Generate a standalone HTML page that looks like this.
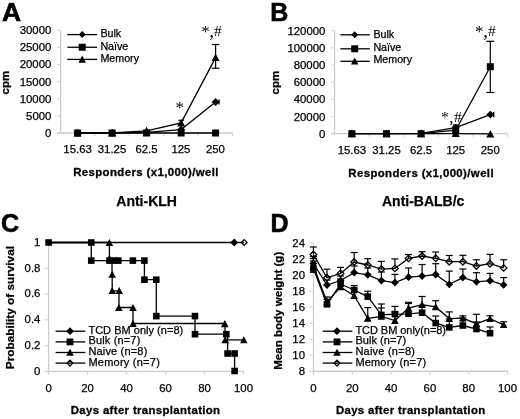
<!DOCTYPE html>
<html><head><meta charset="utf-8"><style>html,body{margin:0;padding:0;background:#fff;}svg{display:block;will-change:transform;filter:blur(0.3px);}</style></head>
<body>
<svg width="520" height="419" viewBox="0 0 520 419">
<rect width="520" height="419" fill="#fff"/>
<text transform="translate(2.10,21.30) scale(1.0,1)" font-family='"Liberation Sans", sans-serif' font-size="26.4" font-weight="bold" stroke="#000" stroke-width="0.6">A</text>
<line x1="60.60" y1="30.20" x2="60.60" y2="133.50" stroke="#cdcdcd" stroke-width="1.3"/>
<line x1="57.10" y1="133.00" x2="60.60" y2="133.00" stroke="#d6d6d6" stroke-width="1.2"/>
<text x="51.40" y="137.00" font-family='"Liberation Sans", sans-serif' font-size="11.4" text-anchor="end" stroke="#000" stroke-width="0.25" >0</text>
<line x1="57.10" y1="115.87" x2="60.60" y2="115.87" stroke="#d6d6d6" stroke-width="1.2"/>
<text x="51.40" y="119.87" font-family='"Liberation Sans", sans-serif' font-size="11.4" text-anchor="end" stroke="#000" stroke-width="0.25" >5000</text>
<line x1="57.10" y1="98.73" x2="60.60" y2="98.73" stroke="#d6d6d6" stroke-width="1.2"/>
<text x="51.40" y="102.73" font-family='"Liberation Sans", sans-serif' font-size="11.4" text-anchor="end" stroke="#000" stroke-width="0.25" >10000</text>
<line x1="57.10" y1="81.60" x2="60.60" y2="81.60" stroke="#d6d6d6" stroke-width="1.2"/>
<text x="51.40" y="85.60" font-family='"Liberation Sans", sans-serif' font-size="11.4" text-anchor="end" stroke="#000" stroke-width="0.25" >15000</text>
<line x1="57.10" y1="64.47" x2="60.60" y2="64.47" stroke="#d6d6d6" stroke-width="1.2"/>
<text x="51.40" y="68.47" font-family='"Liberation Sans", sans-serif' font-size="11.4" text-anchor="end" stroke="#000" stroke-width="0.25" >20000</text>
<line x1="57.10" y1="47.33" x2="60.60" y2="47.33" stroke="#d6d6d6" stroke-width="1.2"/>
<text x="51.40" y="51.33" font-family='"Liberation Sans", sans-serif' font-size="11.4" text-anchor="end" stroke="#000" stroke-width="0.25" >25000</text>
<line x1="57.10" y1="30.20" x2="60.60" y2="30.20" stroke="#d6d6d6" stroke-width="1.2"/>
<text x="51.40" y="34.20" font-family='"Liberation Sans", sans-serif' font-size="11.4" text-anchor="end" stroke="#000" stroke-width="0.25" >30000</text>
<line x1="57.10" y1="133.00" x2="232.62" y2="133.00" stroke="#cdcdcd" stroke-width="1.3"/>
<line x1="94.82" y1="133.00" x2="94.82" y2="136.00" stroke="#d6d6d6" stroke-width="1.2"/>
<line x1="129.28" y1="133.00" x2="129.28" y2="136.00" stroke="#d6d6d6" stroke-width="1.2"/>
<line x1="163.72" y1="133.00" x2="163.72" y2="136.00" stroke="#d6d6d6" stroke-width="1.2"/>
<line x1="198.18" y1="133.00" x2="198.18" y2="136.00" stroke="#d6d6d6" stroke-width="1.2"/>
<line x1="232.62" y1="133.00" x2="232.62" y2="136.00" stroke="#d6d6d6" stroke-width="1.2"/>
<text x="77.60" y="152.50" font-family='"Liberation Sans", sans-serif' font-size="11.4" text-anchor="middle" stroke="#000" stroke-width="0.25" >15.63</text>
<text x="112.05" y="152.50" font-family='"Liberation Sans", sans-serif' font-size="11.4" text-anchor="middle" stroke="#000" stroke-width="0.25" >31.25</text>
<text x="146.50" y="152.50" font-family='"Liberation Sans", sans-serif' font-size="11.4" text-anchor="middle" stroke="#000" stroke-width="0.25" >62.5</text>
<text x="180.95" y="152.50" font-family='"Liberation Sans", sans-serif' font-size="11.4" text-anchor="middle" stroke="#000" stroke-width="0.25" >125</text>
<text x="215.40" y="152.50" font-family='"Liberation Sans", sans-serif' font-size="11.4" text-anchor="middle" stroke="#000" stroke-width="0.25" >250</text>
<text x="146.00" y="176.2" font-family='"Liberation Sans", sans-serif' font-size="11.4" font-weight="bold" text-anchor="middle" letter-spacing="0.4" stroke="#000" stroke-width="0.3">Responders (x1,000)/well</text>
<text transform="translate(9.30,82.60) rotate(-90)" font-family='"Liberation Sans", sans-serif' font-size="11.5" font-weight="bold" text-anchor="middle" stroke="#000" stroke-width="0.25" >cpm</text>
<polyline points="77.60,133.00 112.10,133.00 146.60,133.00 181.10,133.00 215.60,133.00" fill="none" stroke="#000" stroke-width="1.3" stroke-linejoin="miter"/>
<polyline points="77.60,133.00 112.10,133.00 146.60,132.40 181.10,129.60 215.60,102.00" fill="none" stroke="#000" stroke-width="1.3" stroke-linejoin="miter"/>
<polyline points="77.60,133.00 112.10,133.00 146.60,130.80 181.10,122.90 215.60,57.60" fill="none" stroke="#000" stroke-width="1.3" stroke-linejoin="miter"/>
<line x1="215.60" y1="44.50" x2="215.60" y2="68.20" stroke="#000" stroke-width="1.2"/>
<line x1="211.85" y1="44.50" x2="219.35" y2="44.50" stroke="#000" stroke-width="1.2"/>
<line x1="211.85" y1="68.20" x2="219.35" y2="68.20" stroke="#000" stroke-width="1.2"/>
<line x1="181.10" y1="120.30" x2="181.10" y2="125.00" stroke="#000" stroke-width="1.2"/>
<line x1="178.35" y1="120.30" x2="183.85" y2="120.30" stroke="#000" stroke-width="1.2"/>
<line x1="178.35" y1="125.00" x2="183.85" y2="125.00" stroke="#000" stroke-width="1.2"/>
<rect x="74.10" y="129.50" width="7.00" height="7.00" fill="#000"/>
<rect x="108.60" y="129.50" width="7.00" height="7.00" fill="#000"/>
<rect x="143.10" y="129.50" width="7.00" height="7.00" fill="#000"/>
<rect x="177.60" y="129.50" width="7.00" height="7.00" fill="#000"/>
<rect x="212.10" y="129.50" width="7.00" height="7.00" fill="#000"/>
<polygon points="77.60,129.10 81.50,133.00 77.60,136.90 73.70,133.00" fill="#000"/>
<polygon points="112.10,129.10 116.00,133.00 112.10,136.90 108.20,133.00" fill="#000"/>
<polygon points="146.60,128.50 150.50,132.40 146.60,136.30 142.70,132.40" fill="#000"/>
<polygon points="181.10,125.70 185.00,129.60 181.10,133.50 177.20,129.60" fill="#000"/>
<polygon points="215.60,98.10 219.50,102.00 215.60,105.90 211.70,102.00" fill="#000"/>
<line x1="219.00" y1="99.40" x2="219.00" y2="104.60" stroke="#000" stroke-width="1.4"/>
<polygon points="77.60,129.00 81.60,136.50 73.60,136.50" fill="#000"/>
<polygon points="112.10,129.00 116.10,136.50 108.10,136.50" fill="#000"/>
<polygon points="146.60,126.80 150.60,134.30 142.60,134.30" fill="#000"/>
<polygon points="181.10,118.90 185.10,126.40 177.10,126.40" fill="#000"/>
<polygon points="215.60,53.60 219.60,61.10 211.60,61.10" fill="#000"/>
<line x1="67.30" y1="34.60" x2="97.10" y2="34.60" stroke="#000" stroke-width="1.3"/>
<polygon points="82.20,31.10 85.70,34.60 82.20,38.10 78.70,34.60" fill="#000"/>
<text x="100.40" y="37.30" font-family='"Liberation Sans", sans-serif' font-size="10.7" text-anchor="start" stroke="#000" stroke-width="0.25" >Bulk</text>
<line x1="67.30" y1="47.25" x2="97.10" y2="47.25" stroke="#000" stroke-width="1.3"/>
<rect x="78.70" y="43.75" width="7.00" height="7.00" fill="#000"/>
<text x="100.40" y="50.40" font-family='"Liberation Sans", sans-serif' font-size="10.7" text-anchor="start" stroke="#000" stroke-width="0.25" >Na&#239;ve</text>
<line x1="67.30" y1="59.40" x2="97.10" y2="59.40" stroke="#000" stroke-width="1.3"/>
<polygon points="82.20,55.60 85.90,62.70 78.50,62.70" fill="#000"/>
<text x="100.40" y="62.40" font-family='"Liberation Sans", sans-serif' font-size="10.7" text-anchor="start" stroke="#000" stroke-width="0.25" >Memory</text>
<text x="205.40" y="37.20" font-family='"Liberation Serif", serif' font-size="17" text-anchor="middle" >*</text>
<text x="211.60" y="37.40" font-family='"Liberation Serif", serif' font-size="19" text-anchor="middle" >,</text>
<text x="217.90" y="35.90" font-family='"Liberation Serif", serif' font-size="15.5" text-anchor="middle" >#</text>
<text x="179.70" y="113.40" font-family='"Liberation Serif", serif' font-size="17" text-anchor="middle" >*</text>
<text x="146.60" y="205.50" font-family='"Liberation Sans", sans-serif' font-size="14" font-weight="bold" text-anchor="middle" stroke="#000" stroke-width="0.25" >Anti-KLH</text>
<text transform="translate(270.30,21.30) scale(0.95,1)" font-family='"Liberation Sans", sans-serif' font-size="26.4" font-weight="bold" stroke="#000" stroke-width="0.6">B</text>
<line x1="334.60" y1="30.60" x2="334.60" y2="134.20" stroke="#cdcdcd" stroke-width="1.3"/>
<line x1="331.10" y1="133.70" x2="334.60" y2="133.70" stroke="#d6d6d6" stroke-width="1.2"/>
<text x="325.40" y="137.70" font-family='"Liberation Sans", sans-serif' font-size="11.4" text-anchor="end" stroke="#000" stroke-width="0.25" >0</text>
<line x1="331.10" y1="116.52" x2="334.60" y2="116.52" stroke="#d6d6d6" stroke-width="1.2"/>
<text x="325.40" y="120.52" font-family='"Liberation Sans", sans-serif' font-size="11.4" text-anchor="end" stroke="#000" stroke-width="0.25" >20000</text>
<line x1="331.10" y1="99.33" x2="334.60" y2="99.33" stroke="#d6d6d6" stroke-width="1.2"/>
<text x="325.40" y="103.33" font-family='"Liberation Sans", sans-serif' font-size="11.4" text-anchor="end" stroke="#000" stroke-width="0.25" >40000</text>
<line x1="331.10" y1="82.15" x2="334.60" y2="82.15" stroke="#d6d6d6" stroke-width="1.2"/>
<text x="325.40" y="86.15" font-family='"Liberation Sans", sans-serif' font-size="11.4" text-anchor="end" stroke="#000" stroke-width="0.25" >60000</text>
<line x1="331.10" y1="64.97" x2="334.60" y2="64.97" stroke="#d6d6d6" stroke-width="1.2"/>
<text x="325.40" y="68.97" font-family='"Liberation Sans", sans-serif' font-size="11.4" text-anchor="end" stroke="#000" stroke-width="0.25" >80000</text>
<line x1="331.10" y1="47.78" x2="334.60" y2="47.78" stroke="#d6d6d6" stroke-width="1.2"/>
<text x="325.40" y="51.78" font-family='"Liberation Sans", sans-serif' font-size="11.4" text-anchor="end" stroke="#000" stroke-width="0.25" >100000</text>
<line x1="331.10" y1="30.60" x2="334.60" y2="30.60" stroke="#d6d6d6" stroke-width="1.2"/>
<text x="325.40" y="34.60" font-family='"Liberation Sans", sans-serif' font-size="11.4" text-anchor="end" stroke="#000" stroke-width="0.25" >120000</text>
<line x1="331.10" y1="133.70" x2="507.60" y2="133.70" stroke="#cdcdcd" stroke-width="1.3"/>
<line x1="369.20" y1="133.70" x2="369.20" y2="136.70" stroke="#d6d6d6" stroke-width="1.2"/>
<line x1="403.80" y1="133.70" x2="403.80" y2="136.70" stroke="#d6d6d6" stroke-width="1.2"/>
<line x1="438.40" y1="133.70" x2="438.40" y2="136.70" stroke="#d6d6d6" stroke-width="1.2"/>
<line x1="473.00" y1="133.70" x2="473.00" y2="136.70" stroke="#d6d6d6" stroke-width="1.2"/>
<line x1="507.60" y1="133.70" x2="507.60" y2="136.70" stroke="#d6d6d6" stroke-width="1.2"/>
<text x="351.90" y="154.30" font-family='"Liberation Sans", sans-serif' font-size="11.4" text-anchor="middle" stroke="#000" stroke-width="0.25" >15.63</text>
<text x="386.50" y="154.30" font-family='"Liberation Sans", sans-serif' font-size="11.4" text-anchor="middle" stroke="#000" stroke-width="0.25" >31.25</text>
<text x="421.10" y="154.30" font-family='"Liberation Sans", sans-serif' font-size="11.4" text-anchor="middle" stroke="#000" stroke-width="0.25" >62.5</text>
<text x="455.70" y="154.30" font-family='"Liberation Sans", sans-serif' font-size="11.4" text-anchor="middle" stroke="#000" stroke-width="0.25" >125</text>
<text x="490.30" y="154.30" font-family='"Liberation Sans", sans-serif' font-size="11.4" text-anchor="middle" stroke="#000" stroke-width="0.25" >250</text>
<text x="421.15" y="177.0" font-family='"Liberation Sans", sans-serif' font-size="11.4" font-weight="bold" text-anchor="middle" letter-spacing="0.4" stroke="#000" stroke-width="0.3">Responders (x1,000)/well</text>
<text transform="translate(279.00,82.60) rotate(-90)" font-family='"Liberation Sans", sans-serif' font-size="11.5" font-weight="bold" text-anchor="middle" stroke="#000" stroke-width="0.25" >cpm</text>
<polyline points="351.90,133.70 386.50,133.70 421.10,133.70 455.70,133.60 490.30,133.90" fill="none" stroke="#000" stroke-width="1.3" stroke-linejoin="miter"/>
<polyline points="351.90,133.70 386.50,133.70 421.10,133.40 455.70,127.60 490.30,114.60" fill="none" stroke="#000" stroke-width="1.3" stroke-linejoin="miter"/>
<polyline points="351.90,133.70 386.50,133.70 421.10,133.70 455.70,130.20 490.30,66.70" fill="none" stroke="#000" stroke-width="1.3" stroke-linejoin="miter"/>
<line x1="490.30" y1="41.30" x2="490.30" y2="92.50" stroke="#000" stroke-width="1.2"/>
<line x1="486.30" y1="41.30" x2="494.30" y2="41.30" stroke="#000" stroke-width="1.2"/>
<line x1="486.30" y1="92.50" x2="494.30" y2="92.50" stroke="#000" stroke-width="1.2"/>
<line x1="455.70" y1="125.00" x2="455.70" y2="135.50" stroke="#000" stroke-width="1.2"/>
<line x1="452.70" y1="125.00" x2="458.70" y2="125.00" stroke="#000" stroke-width="1.2"/>
<line x1="452.70" y1="135.50" x2="458.70" y2="135.50" stroke="#000" stroke-width="1.2"/>
<rect x="348.40" y="130.20" width="7.00" height="7.00" fill="#000"/>
<rect x="383.00" y="130.20" width="7.00" height="7.00" fill="#000"/>
<rect x="417.60" y="130.20" width="7.00" height="7.00" fill="#000"/>
<rect x="452.20" y="126.70" width="7.00" height="7.00" fill="#000"/>
<rect x="486.80" y="63.20" width="7.00" height="7.00" fill="#000"/>
<polygon points="351.90,129.80 355.80,133.70 351.90,137.60 348.00,133.70" fill="#000"/>
<polygon points="386.50,129.80 390.40,133.70 386.50,137.60 382.60,133.70" fill="#000"/>
<polygon points="421.10,129.50 425.00,133.40 421.10,137.30 417.20,133.40" fill="#000"/>
<polygon points="455.70,123.70 459.60,127.60 455.70,131.50 451.80,127.60" fill="#000"/>
<polygon points="490.30,110.70 494.20,114.60 490.30,118.50 486.40,114.60" fill="#000"/>
<line x1="493.70" y1="112.00" x2="493.70" y2="117.20" stroke="#000" stroke-width="1.4"/>
<polygon points="351.90,129.70 355.90,137.20 347.90,137.20" fill="#000"/>
<polygon points="386.50,129.70 390.50,137.20 382.50,137.20" fill="#000"/>
<polygon points="421.10,129.70 425.10,137.20 417.10,137.20" fill="#000"/>
<polygon points="455.70,129.60 459.70,137.10 451.70,137.10" fill="#000"/>
<polygon points="490.30,129.90 494.30,137.40 486.30,137.40" fill="#000"/>
<line x1="340.30" y1="34.80" x2="369.80" y2="34.80" stroke="#000" stroke-width="1.3"/>
<polygon points="354.70,31.30 358.20,34.80 354.70,38.30 351.20,34.80" fill="#000"/>
<text x="373.40" y="37.60" font-family='"Liberation Sans", sans-serif' font-size="10.7" text-anchor="start" stroke="#000" stroke-width="0.25" >Bulk</text>
<line x1="340.30" y1="48.80" x2="369.80" y2="48.80" stroke="#000" stroke-width="1.3"/>
<rect x="351.20" y="45.30" width="7.00" height="7.00" fill="#000"/>
<text x="373.40" y="51.30" font-family='"Liberation Sans", sans-serif' font-size="10.7" text-anchor="start" stroke="#000" stroke-width="0.25" >Na&#239;ve</text>
<line x1="340.30" y1="61.30" x2="369.80" y2="61.30" stroke="#000" stroke-width="1.3"/>
<polygon points="354.70,57.50 358.40,64.60 351.00,64.60" fill="#000"/>
<text x="373.40" y="63.20" font-family='"Liberation Sans", sans-serif' font-size="10.7" text-anchor="start" stroke="#000" stroke-width="0.25" >Memory</text>
<text x="479.30" y="37.30" font-family='"Liberation Serif", serif' font-size="17" text-anchor="middle" >*</text>
<text x="485.60" y="37.30" font-family='"Liberation Serif", serif' font-size="19" text-anchor="middle" >,</text>
<text x="491.80" y="35.90" font-family='"Liberation Serif", serif' font-size="15.5" text-anchor="middle" >#</text>
<text x="444.90" y="121.60" font-family='"Liberation Serif", serif' font-size="15.5" text-anchor="middle" >*</text>
<text x="451.40" y="123.00" font-family='"Liberation Serif", serif' font-size="17" text-anchor="middle" >,</text>
<text x="457.90" y="121.60" font-family='"Liberation Serif", serif' font-size="15.5" text-anchor="middle" >#</text>
<text x="423.20" y="205.90" font-family='"Liberation Sans", sans-serif' font-size="14" font-weight="bold" text-anchor="middle" stroke="#000" stroke-width="0.25" >Anti-BALB/c</text>
<text transform="translate(1.00,232.40) scale(0.95,1)" font-family='"Liberation Sans", sans-serif' font-size="26.4" font-weight="bold" stroke="#000" stroke-width="0.6">C</text>
<line x1="48.60" y1="242.50" x2="48.60" y2="371.90" stroke="#cdcdcd" stroke-width="1.3"/>
<line x1="44.60" y1="371.40" x2="48.60" y2="371.40" stroke="#d6d6d6" stroke-width="1.2"/>
<text x="40.40" y="374.70" font-family='"Liberation Sans", sans-serif' font-size="11.4" text-anchor="end" stroke="#000" stroke-width="0.25" >0</text>
<line x1="44.60" y1="345.62" x2="48.60" y2="345.62" stroke="#d6d6d6" stroke-width="1.2"/>
<text x="40.40" y="348.92" font-family='"Liberation Sans", sans-serif' font-size="11.4" text-anchor="end" stroke="#000" stroke-width="0.25" >0.2</text>
<line x1="44.60" y1="319.84" x2="48.60" y2="319.84" stroke="#d6d6d6" stroke-width="1.2"/>
<text x="40.40" y="323.14" font-family='"Liberation Sans", sans-serif' font-size="11.4" text-anchor="end" stroke="#000" stroke-width="0.25" >0.4</text>
<line x1="44.60" y1="294.06" x2="48.60" y2="294.06" stroke="#d6d6d6" stroke-width="1.2"/>
<text x="40.40" y="297.36" font-family='"Liberation Sans", sans-serif' font-size="11.4" text-anchor="end" stroke="#000" stroke-width="0.25" >0.6</text>
<line x1="44.60" y1="268.28" x2="48.60" y2="268.28" stroke="#d6d6d6" stroke-width="1.2"/>
<text x="40.40" y="271.58" font-family='"Liberation Sans", sans-serif' font-size="11.4" text-anchor="end" stroke="#000" stroke-width="0.25" >0.8</text>
<line x1="44.60" y1="242.50" x2="48.60" y2="242.50" stroke="#d6d6d6" stroke-width="1.2"/>
<text x="40.40" y="245.80" font-family='"Liberation Sans", sans-serif' font-size="11.4" text-anchor="end" stroke="#000" stroke-width="0.25" >1</text>
<line x1="48.60" y1="371.40" x2="244.00" y2="371.40" stroke="#cdcdcd" stroke-width="1.3"/>
<line x1="48.60" y1="371.40" x2="48.60" y2="374.90" stroke="#d6d6d6" stroke-width="1.2"/>
<text x="48.60" y="392.10" font-family='"Liberation Sans", sans-serif' font-size="11.4" text-anchor="middle" stroke="#000" stroke-width="0.25" >0</text>
<line x1="87.58" y1="371.40" x2="87.58" y2="374.90" stroke="#d6d6d6" stroke-width="1.2"/>
<text x="87.58" y="392.10" font-family='"Liberation Sans", sans-serif' font-size="11.4" text-anchor="middle" stroke="#000" stroke-width="0.25" >20</text>
<line x1="126.56" y1="371.40" x2="126.56" y2="374.90" stroke="#d6d6d6" stroke-width="1.2"/>
<text x="126.56" y="392.10" font-family='"Liberation Sans", sans-serif' font-size="11.4" text-anchor="middle" stroke="#000" stroke-width="0.25" >40</text>
<line x1="165.54" y1="371.40" x2="165.54" y2="374.90" stroke="#d6d6d6" stroke-width="1.2"/>
<text x="165.54" y="392.10" font-family='"Liberation Sans", sans-serif' font-size="11.4" text-anchor="middle" stroke="#000" stroke-width="0.25" >60</text>
<line x1="204.52" y1="371.40" x2="204.52" y2="374.90" stroke="#d6d6d6" stroke-width="1.2"/>
<text x="204.52" y="392.10" font-family='"Liberation Sans", sans-serif' font-size="11.4" text-anchor="middle" stroke="#000" stroke-width="0.25" >80</text>
<line x1="243.50" y1="371.40" x2="243.50" y2="374.90" stroke="#d6d6d6" stroke-width="1.2"/>
<text x="243.50" y="392.10" font-family='"Liberation Sans", sans-serif' font-size="11.4" text-anchor="middle" stroke="#000" stroke-width="0.25" >100</text>
<text x="145.60" y="413.6" font-family='"Liberation Sans", sans-serif' font-size="11.4" font-weight="bold" text-anchor="middle" letter-spacing="0.35" stroke="#000" stroke-width="0.3">Days after transplantation</text>
<text transform="translate(13.60,307.60) rotate(-90)" font-family='"Liberation Sans", sans-serif' font-size="11.8" font-weight="bold" text-anchor="middle" stroke="#000" stroke-width="0.25" >Probability of survival</text>
<line x1="48.60" y1="242.50" x2="244.20" y2="242.50" stroke="#000" stroke-width="1.3"/>
<polyline points="48.60,242.50 91.25,242.50 91.25,260.60 144.40,260.60 144.40,279.70 156.30,279.70 156.30,316.10 195.00,316.10 195.00,334.20 227.60,334.20 227.60,353.50 234.60,353.50 234.60,371.00" fill="none" stroke="#000" stroke-width="1.3" stroke-linejoin="miter"/>
<polyline points="48.60,242.50 109.40,242.50 109.40,258.60 112.00,258.60 112.00,274.70 112.20,274.70 112.20,290.80 119.00,290.80 119.00,307.50 133.00,307.50 133.00,323.50 225.00,323.50 225.00,339.80 243.80,339.80" fill="none" stroke="#000" stroke-width="1.3" stroke-linejoin="miter"/>
<rect x="45.30" y="239.20" width="6.60" height="6.60" fill="#000"/>
<rect x="87.95" y="239.20" width="6.60" height="6.60" fill="#000"/>
<rect x="87.95" y="257.30" width="6.60" height="6.60" fill="#000"/>
<rect x="106.20" y="257.30" width="6.60" height="6.60" fill="#000"/>
<rect x="110.70" y="257.30" width="6.60" height="6.60" fill="#000"/>
<rect x="115.00" y="257.30" width="6.60" height="6.60" fill="#000"/>
<rect x="129.60" y="257.30" width="6.60" height="6.60" fill="#000"/>
<rect x="141.10" y="257.30" width="6.60" height="6.60" fill="#000"/>
<rect x="141.10" y="276.40" width="6.60" height="6.60" fill="#000"/>
<rect x="153.00" y="276.40" width="6.60" height="6.60" fill="#000"/>
<rect x="153.00" y="312.80" width="6.60" height="6.60" fill="#000"/>
<rect x="191.70" y="312.80" width="6.60" height="6.60" fill="#000"/>
<rect x="191.70" y="330.90" width="6.60" height="6.60" fill="#000"/>
<rect x="223.00" y="330.90" width="6.60" height="6.60" fill="#000"/>
<rect x="224.30" y="350.20" width="6.60" height="6.60" fill="#000"/>
<rect x="231.30" y="350.20" width="6.60" height="6.60" fill="#000"/>
<rect x="231.30" y="367.70" width="6.60" height="6.60" fill="#000"/>
<polygon points="109.40,239.00 113.20,246.10 105.60,246.10" fill="#000"/>
<polygon points="109.40,254.80 113.20,261.90 105.60,261.90" fill="#000"/>
<polygon points="112.20,270.70 116.00,277.80 108.40,277.80" fill="#000"/>
<polygon points="112.20,287.00 116.00,294.10 108.40,294.10" fill="#000"/>
<polygon points="119.20,287.00 123.00,294.10 115.40,294.10" fill="#000"/>
<polygon points="118.80,304.00 122.60,311.10 115.00,311.10" fill="#000"/>
<polygon points="133.00,304.00 136.80,311.10 129.20,311.10" fill="#000"/>
<polygon points="133.00,319.80 136.80,326.90 129.20,326.90" fill="#000"/>
<polygon points="224.80,320.10 228.60,327.20 221.00,327.20" fill="#000"/>
<polygon points="225.20,336.20 229.00,343.30 221.40,343.30" fill="#000"/>
<polygon points="243.80,336.20 247.60,343.30 240.00,343.30" fill="#000"/>
<polygon points="234.20,238.60 238.10,242.50 234.20,246.40 230.30,242.50" fill="#000"/>
<polygon points="244.20,239.60 247.10,242.50 244.20,245.40 241.30,242.50" fill="none" stroke="#000" stroke-width="1.3"/>
<line x1="55.60" y1="331.20" x2="85.40" y2="331.20" stroke="#000" stroke-width="1.3"/>
<polygon points="70.00,327.30 73.90,331.20 70.00,335.10 66.10,331.20" fill="#000"/>
<text x="88.40" y="333.70" font-family='"Liberation Sans", sans-serif' font-size="11" text-anchor="start" stroke="#000" stroke-width="0.25" textLength="94.8">TCD BM only (n=8)</text>
<line x1="55.60" y1="341.90" x2="85.40" y2="341.90" stroke="#000" stroke-width="1.3"/>
<rect x="66.60" y="338.50" width="6.80" height="6.80" fill="#000"/>
<text x="88.40" y="344.40" font-family='"Liberation Sans", sans-serif' font-size="11" text-anchor="start" stroke="#000" stroke-width="0.25" textLength="51.9">Bulk (n=7)</text>
<line x1="55.60" y1="352.50" x2="85.40" y2="352.50" stroke="#000" stroke-width="1.3"/>
<polygon points="70.00,348.70 73.80,355.80 66.20,355.80" fill="#000"/>
<text x="88.40" y="355.00" font-family='"Liberation Sans", sans-serif' font-size="11" text-anchor="start" stroke="#000" stroke-width="0.25" textLength="58.9">Naive (n=8)</text>
<line x1="55.60" y1="363.10" x2="85.40" y2="363.10" stroke="#000" stroke-width="1.3"/>
<polygon points="70.00,360.20 72.90,363.10 70.00,366.00 67.10,363.10" fill="none" stroke="#000" stroke-width="1.3"/>
<text x="88.40" y="365.60" font-family='"Liberation Sans", sans-serif' font-size="11" text-anchor="start" stroke="#000" stroke-width="0.25" textLength="71.4">Memory (n=7)</text>
<text transform="translate(270.50,232.40) scale(0.95,1)" font-family='"Liberation Sans", sans-serif' font-size="26.4" font-weight="bold" stroke="#000" stroke-width="0.6">D</text>
<line x1="313.50" y1="243.10" x2="313.50" y2="371.75" stroke="#cdcdcd" stroke-width="1.3"/>
<line x1="309.50" y1="371.25" x2="313.50" y2="371.25" stroke="#d6d6d6" stroke-width="1.2"/>
<text x="305.00" y="375.25" font-family='"Liberation Sans", sans-serif' font-size="11.4" text-anchor="end" stroke="#000" stroke-width="0.25" >8</text>
<line x1="309.50" y1="355.23" x2="313.50" y2="355.23" stroke="#d6d6d6" stroke-width="1.2"/>
<text x="305.00" y="359.23" font-family='"Liberation Sans", sans-serif' font-size="11.4" text-anchor="end" stroke="#000" stroke-width="0.25" >10</text>
<line x1="309.50" y1="339.21" x2="313.50" y2="339.21" stroke="#d6d6d6" stroke-width="1.2"/>
<text x="305.00" y="343.21" font-family='"Liberation Sans", sans-serif' font-size="11.4" text-anchor="end" stroke="#000" stroke-width="0.25" >12</text>
<line x1="309.50" y1="323.19" x2="313.50" y2="323.19" stroke="#d6d6d6" stroke-width="1.2"/>
<text x="305.00" y="327.19" font-family='"Liberation Sans", sans-serif' font-size="11.4" text-anchor="end" stroke="#000" stroke-width="0.25" >14</text>
<line x1="309.50" y1="307.18" x2="313.50" y2="307.18" stroke="#d6d6d6" stroke-width="1.2"/>
<text x="305.00" y="311.18" font-family='"Liberation Sans", sans-serif' font-size="11.4" text-anchor="end" stroke="#000" stroke-width="0.25" >16</text>
<line x1="309.50" y1="291.16" x2="313.50" y2="291.16" stroke="#d6d6d6" stroke-width="1.2"/>
<text x="305.00" y="295.16" font-family='"Liberation Sans", sans-serif' font-size="11.4" text-anchor="end" stroke="#000" stroke-width="0.25" >18</text>
<line x1="309.50" y1="275.14" x2="313.50" y2="275.14" stroke="#d6d6d6" stroke-width="1.2"/>
<text x="305.00" y="279.14" font-family='"Liberation Sans", sans-serif' font-size="11.4" text-anchor="end" stroke="#000" stroke-width="0.25" >20</text>
<line x1="309.50" y1="259.12" x2="313.50" y2="259.12" stroke="#d6d6d6" stroke-width="1.2"/>
<text x="305.00" y="263.12" font-family='"Liberation Sans", sans-serif' font-size="11.4" text-anchor="end" stroke="#000" stroke-width="0.25" >22</text>
<line x1="309.50" y1="243.10" x2="313.50" y2="243.10" stroke="#d6d6d6" stroke-width="1.2"/>
<text x="305.00" y="247.10" font-family='"Liberation Sans", sans-serif' font-size="11.4" text-anchor="end" stroke="#000" stroke-width="0.25" >24</text>
<line x1="313.50" y1="371.25" x2="508.00" y2="371.25" stroke="#cdcdcd" stroke-width="1.3"/>
<line x1="313.50" y1="371.25" x2="313.50" y2="374.75" stroke="#d6d6d6" stroke-width="1.2"/>
<text x="313.50" y="392.10" font-family='"Liberation Sans", sans-serif' font-size="11.4" text-anchor="middle" stroke="#000" stroke-width="0.25" >0</text>
<line x1="352.30" y1="371.25" x2="352.30" y2="374.75" stroke="#d6d6d6" stroke-width="1.2"/>
<text x="352.30" y="392.10" font-family='"Liberation Sans", sans-serif' font-size="11.4" text-anchor="middle" stroke="#000" stroke-width="0.25" >20</text>
<line x1="391.10" y1="371.25" x2="391.10" y2="374.75" stroke="#d6d6d6" stroke-width="1.2"/>
<text x="391.10" y="392.10" font-family='"Liberation Sans", sans-serif' font-size="11.4" text-anchor="middle" stroke="#000" stroke-width="0.25" >40</text>
<line x1="429.90" y1="371.25" x2="429.90" y2="374.75" stroke="#d6d6d6" stroke-width="1.2"/>
<text x="429.90" y="392.10" font-family='"Liberation Sans", sans-serif' font-size="11.4" text-anchor="middle" stroke="#000" stroke-width="0.25" >60</text>
<line x1="468.70" y1="371.25" x2="468.70" y2="374.75" stroke="#d6d6d6" stroke-width="1.2"/>
<text x="468.70" y="392.10" font-family='"Liberation Sans", sans-serif' font-size="11.4" text-anchor="middle" stroke="#000" stroke-width="0.25" >80</text>
<line x1="507.50" y1="371.25" x2="507.50" y2="374.75" stroke="#d6d6d6" stroke-width="1.2"/>
<text x="507.50" y="392.10" font-family='"Liberation Sans", sans-serif' font-size="11.4" text-anchor="middle" stroke="#000" stroke-width="0.25" >100</text>
<text x="410.70" y="413.7" font-family='"Liberation Sans", sans-serif' font-size="11.4" font-weight="bold" text-anchor="middle" letter-spacing="0.35" stroke="#000" stroke-width="0.3">Days after transplantation</text>
<text transform="translate(281.60,310.75) rotate(-90)" font-family='"Liberation Sans", sans-serif' font-size="11.55" font-weight="bold" text-anchor="middle" stroke="#000" stroke-width="0.25" >Mean body weight (g)</text>
<line x1="313.40" y1="268.50" x2="313.40" y2="272.30" stroke="#000" stroke-width="1.2"/>
<line x1="309.90" y1="272.30" x2="316.90" y2="272.30" stroke="#000" stroke-width="1.2"/>
<polyline points="313.40,266.00 326.99,302.00 340.57,287.00 354.16,295.60 367.75,318.40 381.33,316.50 394.92,320.60 408.51,308.10 422.10,304.60 435.68,306.90 449.27,318.60 462.86,318.20 476.44,323.70 490.03,318.70 503.62,324.80" fill="none" stroke="#000" stroke-width="1.3" stroke-linejoin="miter"/>
<line x1="313.40" y1="266.00" x2="313.40" y2="258.50" stroke="#000" stroke-width="1.2"/>
<line x1="309.90" y1="258.50" x2="316.90" y2="258.50" stroke="#000" stroke-width="1.2"/>
<line x1="326.99" y1="302.00" x2="326.99" y2="297.00" stroke="#000" stroke-width="1.2"/>
<line x1="323.49" y1="297.00" x2="330.49" y2="297.00" stroke="#000" stroke-width="1.2"/>
<line x1="340.57" y1="287.00" x2="340.57" y2="281.00" stroke="#000" stroke-width="1.2"/>
<line x1="337.07" y1="281.00" x2="344.07" y2="281.00" stroke="#000" stroke-width="1.2"/>
<line x1="354.16" y1="295.60" x2="354.16" y2="289.00" stroke="#000" stroke-width="1.2"/>
<line x1="350.66" y1="289.00" x2="357.66" y2="289.00" stroke="#000" stroke-width="1.2"/>
<line x1="367.75" y1="318.40" x2="367.75" y2="307.60" stroke="#000" stroke-width="1.2"/>
<line x1="364.25" y1="307.60" x2="371.25" y2="307.60" stroke="#000" stroke-width="1.2"/>
<line x1="381.33" y1="316.50" x2="381.33" y2="308.00" stroke="#000" stroke-width="1.2"/>
<line x1="377.83" y1="308.00" x2="384.83" y2="308.00" stroke="#000" stroke-width="1.2"/>
<line x1="394.92" y1="320.60" x2="394.92" y2="312.00" stroke="#000" stroke-width="1.2"/>
<line x1="391.42" y1="312.00" x2="398.42" y2="312.00" stroke="#000" stroke-width="1.2"/>
<line x1="408.51" y1="308.10" x2="408.51" y2="302.30" stroke="#000" stroke-width="1.2"/>
<line x1="405.01" y1="302.30" x2="412.01" y2="302.30" stroke="#000" stroke-width="1.2"/>
<line x1="422.10" y1="304.60" x2="422.10" y2="296.50" stroke="#000" stroke-width="1.2"/>
<line x1="418.60" y1="296.50" x2="425.60" y2="296.50" stroke="#000" stroke-width="1.2"/>
<line x1="435.68" y1="306.90" x2="435.68" y2="300.70" stroke="#000" stroke-width="1.2"/>
<line x1="432.18" y1="300.70" x2="439.18" y2="300.70" stroke="#000" stroke-width="1.2"/>
<line x1="449.27" y1="318.60" x2="449.27" y2="311.90" stroke="#000" stroke-width="1.2"/>
<line x1="445.77" y1="311.90" x2="452.77" y2="311.90" stroke="#000" stroke-width="1.2"/>
<line x1="462.86" y1="318.20" x2="462.86" y2="315.90" stroke="#000" stroke-width="1.2"/>
<line x1="459.36" y1="315.90" x2="466.36" y2="315.90" stroke="#000" stroke-width="1.2"/>
<line x1="476.44" y1="323.70" x2="476.44" y2="314.30" stroke="#000" stroke-width="1.2"/>
<line x1="472.94" y1="314.30" x2="479.94" y2="314.30" stroke="#000" stroke-width="1.2"/>
<line x1="490.03" y1="318.70" x2="490.03" y2="315.80" stroke="#000" stroke-width="1.2"/>
<line x1="486.53" y1="315.80" x2="493.53" y2="315.80" stroke="#000" stroke-width="1.2"/>
<line x1="503.62" y1="324.80" x2="503.62" y2="321.80" stroke="#000" stroke-width="1.2"/>
<line x1="500.12" y1="321.80" x2="507.12" y2="321.80" stroke="#000" stroke-width="1.2"/>
<polygon points="313.40,262.20 317.20,269.30 309.60,269.30" fill="#000"/>
<polygon points="326.99,298.20 330.79,305.30 323.19,305.30" fill="#000"/>
<polygon points="340.57,283.20 344.37,290.30 336.77,290.30" fill="#000"/>
<polygon points="354.16,291.80 357.96,298.90 350.36,298.90" fill="#000"/>
<polygon points="367.75,314.60 371.55,321.70 363.95,321.70" fill="#000"/>
<polygon points="381.33,312.70 385.13,319.80 377.53,319.80" fill="#000"/>
<polygon points="394.92,316.80 398.72,323.90 391.12,323.90" fill="#000"/>
<polygon points="408.51,304.30 412.31,311.40 404.71,311.40" fill="#000"/>
<polygon points="422.10,300.80 425.90,307.90 418.30,307.90" fill="#000"/>
<polygon points="435.68,303.10 439.48,310.20 431.88,310.20" fill="#000"/>
<polygon points="449.27,314.80 453.07,321.90 445.47,321.90" fill="#000"/>
<polygon points="462.86,314.40 466.66,321.50 459.06,321.50" fill="#000"/>
<polygon points="476.44,319.90 480.24,327.00 472.64,327.00" fill="#000"/>
<polygon points="490.03,314.90 493.83,322.00 486.23,322.00" fill="#000"/>
<polygon points="503.62,321.00 507.42,328.10 499.82,328.10" fill="#000"/>
<polyline points="313.40,268.50 326.99,304.30 340.57,284.00 354.16,290.00 367.75,296.60 381.33,314.90 394.92,314.10 408.51,313.80 422.10,312.70 435.68,323.10 449.27,327.40 462.86,325.50 476.44,329.00 490.03,333.20" fill="none" stroke="#000" stroke-width="1.3" stroke-linejoin="miter"/>
<line x1="313.40" y1="268.50" x2="313.40" y2="261.00" stroke="#000" stroke-width="1.2"/>
<line x1="309.90" y1="261.00" x2="316.90" y2="261.00" stroke="#000" stroke-width="1.2"/>
<line x1="326.99" y1="304.30" x2="326.99" y2="299.40" stroke="#000" stroke-width="1.2"/>
<line x1="323.49" y1="299.40" x2="330.49" y2="299.40" stroke="#000" stroke-width="1.2"/>
<line x1="340.57" y1="284.00" x2="340.57" y2="279.00" stroke="#000" stroke-width="1.2"/>
<line x1="337.07" y1="279.00" x2="344.07" y2="279.00" stroke="#000" stroke-width="1.2"/>
<line x1="354.16" y1="290.00" x2="354.16" y2="285.50" stroke="#000" stroke-width="1.2"/>
<line x1="350.66" y1="285.50" x2="357.66" y2="285.50" stroke="#000" stroke-width="1.2"/>
<line x1="367.75" y1="296.60" x2="367.75" y2="291.20" stroke="#000" stroke-width="1.2"/>
<line x1="364.25" y1="291.20" x2="371.25" y2="291.20" stroke="#000" stroke-width="1.2"/>
<line x1="381.33" y1="314.90" x2="381.33" y2="304.00" stroke="#000" stroke-width="1.2"/>
<line x1="377.83" y1="304.00" x2="384.83" y2="304.00" stroke="#000" stroke-width="1.2"/>
<line x1="394.92" y1="314.10" x2="394.92" y2="306.40" stroke="#000" stroke-width="1.2"/>
<line x1="391.42" y1="306.40" x2="398.42" y2="306.40" stroke="#000" stroke-width="1.2"/>
<line x1="408.51" y1="313.80" x2="408.51" y2="303.50" stroke="#000" stroke-width="1.2"/>
<line x1="405.01" y1="303.50" x2="412.01" y2="303.50" stroke="#000" stroke-width="1.2"/>
<line x1="422.10" y1="312.70" x2="422.10" y2="306.00" stroke="#000" stroke-width="1.2"/>
<line x1="418.60" y1="306.00" x2="425.60" y2="306.00" stroke="#000" stroke-width="1.2"/>
<line x1="435.68" y1="323.10" x2="435.68" y2="316.00" stroke="#000" stroke-width="1.2"/>
<line x1="432.18" y1="316.00" x2="439.18" y2="316.00" stroke="#000" stroke-width="1.2"/>
<line x1="449.27" y1="327.40" x2="449.27" y2="319.00" stroke="#000" stroke-width="1.2"/>
<line x1="445.77" y1="319.00" x2="452.77" y2="319.00" stroke="#000" stroke-width="1.2"/>
<line x1="462.86" y1="325.50" x2="462.86" y2="318.00" stroke="#000" stroke-width="1.2"/>
<line x1="459.36" y1="318.00" x2="466.36" y2="318.00" stroke="#000" stroke-width="1.2"/>
<line x1="476.44" y1="329.00" x2="476.44" y2="322.00" stroke="#000" stroke-width="1.2"/>
<line x1="472.94" y1="322.00" x2="479.94" y2="322.00" stroke="#000" stroke-width="1.2"/>
<line x1="490.03" y1="333.20" x2="490.03" y2="327.00" stroke="#000" stroke-width="1.2"/>
<line x1="486.53" y1="327.00" x2="493.53" y2="327.00" stroke="#000" stroke-width="1.2"/>
<rect x="310.10" y="265.20" width="6.60" height="6.60" fill="#000"/>
<rect x="323.69" y="301.00" width="6.60" height="6.60" fill="#000"/>
<rect x="337.27" y="280.70" width="6.60" height="6.60" fill="#000"/>
<rect x="350.86" y="286.70" width="6.60" height="6.60" fill="#000"/>
<rect x="364.45" y="293.30" width="6.60" height="6.60" fill="#000"/>
<rect x="378.03" y="311.60" width="6.60" height="6.60" fill="#000"/>
<rect x="391.62" y="310.80" width="6.60" height="6.60" fill="#000"/>
<rect x="405.21" y="310.50" width="6.60" height="6.60" fill="#000"/>
<rect x="418.80" y="309.40" width="6.60" height="6.60" fill="#000"/>
<rect x="432.38" y="319.80" width="6.60" height="6.60" fill="#000"/>
<rect x="445.97" y="324.10" width="6.60" height="6.60" fill="#000"/>
<rect x="459.56" y="322.20" width="6.60" height="6.60" fill="#000"/>
<rect x="473.14" y="325.70" width="6.60" height="6.60" fill="#000"/>
<rect x="486.73" y="329.90" width="6.60" height="6.60" fill="#000"/>
<polyline points="313.40,263.50 326.99,285.00 340.57,280.50 354.16,272.60 367.75,274.80 381.33,280.60 394.92,282.60 408.51,277.20 422.10,276.10 435.68,274.50 449.27,284.30 462.86,277.60 476.44,281.80 490.03,280.70 503.62,284.90" fill="none" stroke="#000" stroke-width="1.3" stroke-linejoin="miter"/>
<line x1="313.40" y1="263.50" x2="313.40" y2="256.50" stroke="#000" stroke-width="1.2"/>
<line x1="309.90" y1="256.50" x2="316.90" y2="256.50" stroke="#000" stroke-width="1.2"/>
<line x1="326.99" y1="285.00" x2="326.99" y2="280.00" stroke="#000" stroke-width="1.2"/>
<line x1="323.49" y1="280.00" x2="330.49" y2="280.00" stroke="#000" stroke-width="1.2"/>
<line x1="340.57" y1="280.50" x2="340.57" y2="276.00" stroke="#000" stroke-width="1.2"/>
<line x1="337.07" y1="276.00" x2="344.07" y2="276.00" stroke="#000" stroke-width="1.2"/>
<line x1="354.16" y1="272.60" x2="354.16" y2="266.00" stroke="#000" stroke-width="1.2"/>
<line x1="350.66" y1="266.00" x2="357.66" y2="266.00" stroke="#000" stroke-width="1.2"/>
<line x1="367.75" y1="274.80" x2="367.75" y2="268.00" stroke="#000" stroke-width="1.2"/>
<line x1="364.25" y1="268.00" x2="371.25" y2="268.00" stroke="#000" stroke-width="1.2"/>
<line x1="381.33" y1="280.60" x2="381.33" y2="272.00" stroke="#000" stroke-width="1.2"/>
<line x1="377.83" y1="272.00" x2="384.83" y2="272.00" stroke="#000" stroke-width="1.2"/>
<line x1="394.92" y1="282.60" x2="394.92" y2="274.40" stroke="#000" stroke-width="1.2"/>
<line x1="391.42" y1="274.40" x2="398.42" y2="274.40" stroke="#000" stroke-width="1.2"/>
<line x1="408.51" y1="277.20" x2="408.51" y2="268.00" stroke="#000" stroke-width="1.2"/>
<line x1="405.01" y1="268.00" x2="412.01" y2="268.00" stroke="#000" stroke-width="1.2"/>
<line x1="422.10" y1="276.10" x2="422.10" y2="264.50" stroke="#000" stroke-width="1.2"/>
<line x1="418.60" y1="264.50" x2="425.60" y2="264.50" stroke="#000" stroke-width="1.2"/>
<line x1="435.68" y1="274.50" x2="435.68" y2="263.70" stroke="#000" stroke-width="1.2"/>
<line x1="432.18" y1="263.70" x2="439.18" y2="263.70" stroke="#000" stroke-width="1.2"/>
<line x1="449.27" y1="284.30" x2="449.27" y2="271.10" stroke="#000" stroke-width="1.2"/>
<line x1="445.77" y1="271.10" x2="452.77" y2="271.10" stroke="#000" stroke-width="1.2"/>
<line x1="462.86" y1="277.60" x2="462.86" y2="269.00" stroke="#000" stroke-width="1.2"/>
<line x1="459.36" y1="269.00" x2="466.36" y2="269.00" stroke="#000" stroke-width="1.2"/>
<line x1="476.44" y1="281.80" x2="476.44" y2="272.70" stroke="#000" stroke-width="1.2"/>
<line x1="472.94" y1="272.70" x2="479.94" y2="272.70" stroke="#000" stroke-width="1.2"/>
<line x1="490.03" y1="280.70" x2="490.03" y2="273.40" stroke="#000" stroke-width="1.2"/>
<line x1="486.53" y1="273.40" x2="493.53" y2="273.40" stroke="#000" stroke-width="1.2"/>
<line x1="503.62" y1="284.90" x2="503.62" y2="277.60" stroke="#000" stroke-width="1.2"/>
<line x1="500.12" y1="277.60" x2="507.12" y2="277.60" stroke="#000" stroke-width="1.2"/>
<polygon points="313.40,259.60 317.30,263.50 313.40,267.40 309.50,263.50" fill="#000"/>
<polygon points="326.99,281.10 330.89,285.00 326.99,288.90 323.09,285.00" fill="#000"/>
<polygon points="340.57,276.60 344.47,280.50 340.57,284.40 336.67,280.50" fill="#000"/>
<polygon points="354.16,268.70 358.06,272.60 354.16,276.50 350.26,272.60" fill="#000"/>
<polygon points="367.75,270.90 371.65,274.80 367.75,278.70 363.85,274.80" fill="#000"/>
<polygon points="381.33,276.70 385.23,280.60 381.33,284.50 377.44,280.60" fill="#000"/>
<polygon points="394.92,278.70 398.82,282.60 394.92,286.50 391.02,282.60" fill="#000"/>
<polygon points="408.51,273.30 412.41,277.20 408.51,281.10 404.61,277.20" fill="#000"/>
<polygon points="422.10,272.20 426.00,276.10 422.10,280.00 418.20,276.10" fill="#000"/>
<polygon points="435.68,270.60 439.58,274.50 435.68,278.40 431.78,274.50" fill="#000"/>
<polygon points="449.27,280.40 453.17,284.30 449.27,288.20 445.37,284.30" fill="#000"/>
<polygon points="462.86,273.70 466.76,277.60 462.86,281.50 458.96,277.60" fill="#000"/>
<polygon points="476.44,277.90 480.34,281.80 476.44,285.70 472.54,281.80" fill="#000"/>
<polygon points="490.03,276.80 493.93,280.70 490.03,284.60 486.13,280.70" fill="#000"/>
<polygon points="503.62,281.00 507.52,284.90 503.62,288.80 499.72,284.90" fill="#000"/>
<polyline points="313.40,254.50 326.99,277.80 340.57,273.40 354.16,262.00 367.75,265.00 381.33,269.10 394.92,268.40 408.51,258.40 422.10,256.00 435.68,258.30 449.27,261.70 462.86,261.70 476.44,266.00 490.03,263.70 503.62,267.90" fill="none" stroke="#000" stroke-width="1.3" stroke-linejoin="miter"/>
<polygon points="313.40,251.20 316.70,254.50 313.40,257.80 310.10,254.50" fill="none" stroke="#000" stroke-width="1.3"/>
<polygon points="326.99,274.50 330.29,277.80 326.99,281.10 323.69,277.80" fill="none" stroke="#000" stroke-width="1.3"/>
<polygon points="340.57,270.10 343.87,273.40 340.57,276.70 337.27,273.40" fill="none" stroke="#000" stroke-width="1.3"/>
<polygon points="354.16,258.70 357.46,262.00 354.16,265.30 350.86,262.00" fill="none" stroke="#000" stroke-width="1.3"/>
<polygon points="367.75,261.70 371.05,265.00 367.75,268.30 364.45,265.00" fill="none" stroke="#000" stroke-width="1.3"/>
<polygon points="381.33,265.80 384.63,269.10 381.33,272.40 378.03,269.10" fill="none" stroke="#000" stroke-width="1.3"/>
<polygon points="394.92,265.10 398.22,268.40 394.92,271.70 391.62,268.40" fill="none" stroke="#000" stroke-width="1.3"/>
<polygon points="408.51,255.10 411.81,258.40 408.51,261.70 405.21,258.40" fill="none" stroke="#000" stroke-width="1.3"/>
<polygon points="422.10,252.70 425.40,256.00 422.10,259.30 418.80,256.00" fill="none" stroke="#000" stroke-width="1.3"/>
<polygon points="435.68,255.00 438.98,258.30 435.68,261.60 432.38,258.30" fill="none" stroke="#000" stroke-width="1.3"/>
<polygon points="449.27,258.40 452.57,261.70 449.27,265.00 445.97,261.70" fill="none" stroke="#000" stroke-width="1.3"/>
<polygon points="462.86,258.40 466.16,261.70 462.86,265.00 459.56,261.70" fill="none" stroke="#000" stroke-width="1.3"/>
<polygon points="476.44,262.70 479.74,266.00 476.44,269.30 473.14,266.00" fill="none" stroke="#000" stroke-width="1.3"/>
<polygon points="490.03,260.40 493.33,263.70 490.03,267.00 486.73,263.70" fill="none" stroke="#000" stroke-width="1.3"/>
<polygon points="503.62,264.60 506.92,267.90 503.62,271.20 500.32,267.90" fill="none" stroke="#000" stroke-width="1.3"/>
<line x1="313.40" y1="254.50" x2="313.40" y2="247.00" stroke="#000" stroke-width="1.2"/>
<line x1="309.90" y1="247.00" x2="316.90" y2="247.00" stroke="#000" stroke-width="1.2"/>
<line x1="326.99" y1="277.80" x2="326.99" y2="269.20" stroke="#000" stroke-width="1.2"/>
<line x1="323.49" y1="269.20" x2="330.49" y2="269.20" stroke="#000" stroke-width="1.2"/>
<line x1="340.57" y1="273.40" x2="340.57" y2="267.40" stroke="#000" stroke-width="1.2"/>
<line x1="337.07" y1="267.40" x2="344.07" y2="267.40" stroke="#000" stroke-width="1.2"/>
<line x1="354.16" y1="262.00" x2="354.16" y2="252.50" stroke="#000" stroke-width="1.2"/>
<line x1="350.66" y1="252.50" x2="357.66" y2="252.50" stroke="#000" stroke-width="1.2"/>
<line x1="367.75" y1="265.00" x2="367.75" y2="258.60" stroke="#000" stroke-width="1.2"/>
<line x1="364.25" y1="258.60" x2="371.25" y2="258.60" stroke="#000" stroke-width="1.2"/>
<line x1="381.33" y1="269.10" x2="381.33" y2="261.40" stroke="#000" stroke-width="1.2"/>
<line x1="377.83" y1="261.40" x2="384.83" y2="261.40" stroke="#000" stroke-width="1.2"/>
<line x1="394.92" y1="268.40" x2="394.92" y2="258.90" stroke="#000" stroke-width="1.2"/>
<line x1="391.42" y1="258.90" x2="398.42" y2="258.90" stroke="#000" stroke-width="1.2"/>
<line x1="408.51" y1="258.40" x2="408.51" y2="254.50" stroke="#000" stroke-width="1.2"/>
<line x1="405.01" y1="254.50" x2="412.01" y2="254.50" stroke="#000" stroke-width="1.2"/>
<line x1="422.10" y1="256.00" x2="422.10" y2="251.70" stroke="#000" stroke-width="1.2"/>
<line x1="418.60" y1="251.70" x2="425.60" y2="251.70" stroke="#000" stroke-width="1.2"/>
<line x1="435.68" y1="258.30" x2="435.68" y2="252.00" stroke="#000" stroke-width="1.2"/>
<line x1="432.18" y1="252.00" x2="439.18" y2="252.00" stroke="#000" stroke-width="1.2"/>
<line x1="449.27" y1="261.70" x2="449.27" y2="255.50" stroke="#000" stroke-width="1.2"/>
<line x1="445.77" y1="255.50" x2="452.77" y2="255.50" stroke="#000" stroke-width="1.2"/>
<line x1="462.86" y1="261.70" x2="462.86" y2="255.30" stroke="#000" stroke-width="1.2"/>
<line x1="459.36" y1="255.30" x2="466.36" y2="255.30" stroke="#000" stroke-width="1.2"/>
<line x1="476.44" y1="266.00" x2="476.44" y2="259.80" stroke="#000" stroke-width="1.2"/>
<line x1="472.94" y1="259.80" x2="479.94" y2="259.80" stroke="#000" stroke-width="1.2"/>
<line x1="490.03" y1="263.70" x2="490.03" y2="254.40" stroke="#000" stroke-width="1.2"/>
<line x1="486.53" y1="254.40" x2="493.53" y2="254.40" stroke="#000" stroke-width="1.2"/>
<line x1="503.62" y1="267.90" x2="503.62" y2="259.80" stroke="#000" stroke-width="1.2"/>
<line x1="500.12" y1="259.80" x2="507.12" y2="259.80" stroke="#000" stroke-width="1.2"/>
<line x1="322.60" y1="331.20" x2="352.40" y2="331.20" stroke="#000" stroke-width="1.3"/>
<polygon points="337.00,327.30 340.90,331.20 337.00,335.10 333.10,331.20" fill="#000"/>
<text x="355.40" y="333.70" font-family='"Liberation Sans", sans-serif' font-size="11" text-anchor="start" stroke="#000" stroke-width="0.25" textLength="90.6">TCD BM only(n=8)</text>
<line x1="322.60" y1="341.90" x2="352.40" y2="341.90" stroke="#000" stroke-width="1.3"/>
<rect x="333.60" y="338.50" width="6.80" height="6.80" fill="#000"/>
<text x="355.40" y="344.40" font-family='"Liberation Sans", sans-serif' font-size="11" text-anchor="start" stroke="#000" stroke-width="0.25" textLength="50.8">Bulk (n=7)</text>
<line x1="322.60" y1="352.50" x2="352.40" y2="352.50" stroke="#000" stroke-width="1.3"/>
<polygon points="337.00,348.70 340.80,355.80 333.20,355.80" fill="#000"/>
<text x="355.40" y="355.00" font-family='"Liberation Sans", sans-serif' font-size="11" text-anchor="start" stroke="#000" stroke-width="0.25" textLength="59.5">Naive (n=8)</text>
<line x1="322.60" y1="363.10" x2="352.40" y2="363.10" stroke="#000" stroke-width="1.3"/>
<polygon points="337.00,360.20 339.90,363.10 337.00,366.00 334.10,363.10" fill="none" stroke="#000" stroke-width="1.3"/>
<text x="355.40" y="365.60" font-family='"Liberation Sans", sans-serif' font-size="11" text-anchor="start" stroke="#000" stroke-width="0.25" textLength="70.7">Memory (n=7)</text>
</svg>
</body></html>
